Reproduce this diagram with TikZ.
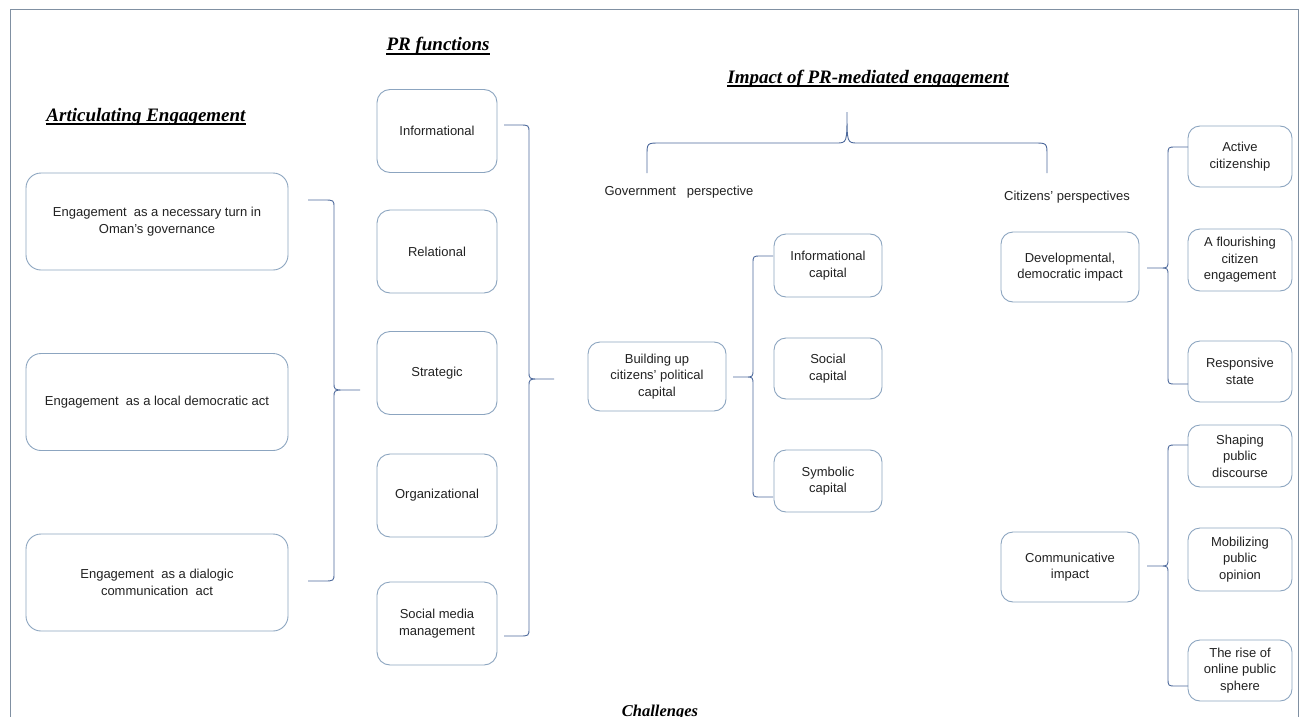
\documentclass[tikz,border=0pt]{standalone}
\usepackage{fontspec}
\setmainfont{Liberation Sans}
\newfontfamily\titlefont{Liberation Serif}
\usetikzlibrary{calc}

\definecolor{boxc}{RGB}{140,165,192}
\definecolor{bracec}{RGB}{78,106,156}
\definecolor{framec}{RGB}{128,144,162}
\definecolor{txt}{RGB}{34,34,34}

% vertical brace: #1 arm x, #2 spine x, #3 tip x, #4 top y, #5 tip y, #6 bottom y
\newcommand{\vbrace}[6]{%
  \draw[bracel] (#1,#4) -- ({#2+0.4*(#1-#2)},#4) .. controls (#2,#4) .. (#2,#4+8)
    -- (#2,#5-8) .. controls (#2,#5) .. ({#2+0.4*(#3-#2)},#5) -- (#3,#5)
    -- ({#2+0.4*(#3-#2)},#5) .. controls (#2,#5) .. (#2,#5+8)
    -- (#2,#6-8) .. controls (#2,#6) .. ({#2+0.4*(#1-#2)},#6) -- (#1,#6);}

\tikzset{
  box/.style={draw=boxc, line width=0.9pt, rounded corners=12pt, align=center,
    inner sep=2pt, text=txt, font=\fontsize{13}{16.5}\selectfont},
  bigbox/.style={box, rounded corners=15pt, minimum width=262pt, minimum height=97pt},
  prbox/.style={box, rounded corners=13pt, minimum width=120pt, minimum height=83pt},
  midbox/.style={box, minimum width=138pt, minimum height=70pt},
  capbox/.style={box, minimum width=108pt, minimum height=62pt},
  leafbox/.style={box, minimum width=104pt, minimum height=62pt},
  title/.style={inner sep=0pt, anchor=base, text=black,
    font=\titlefont\bfseries\itshape\fontsize{19}{23}\selectfont},
  uline/.style={line width=1.2pt, black},
  lab/.style={inner sep=0pt, text=txt, font=\fontsize{13}{16.5}\selectfont},
  bracel/.style={draw=bracec, line width=0.9pt},
}

\begin{document}
\begin{tikzpicture}[x=1pt, y=-1pt]
\useasboundingbox (0,0) rectangle (1303,717);
\clip (0,0) rectangle (1303,717);
\fill[white] (0,0) rectangle (1303,717);
\draw[framec, line width=1pt] (10,10) rectangle (1298,740);

% headings
\node[title] (tArt) at (146,121) {Articulating Engagement};
\node[title] (tPR) at (438,51) {PR functions};
\node[title] (tImp) at (868,83) {Impact of PR-mediated engagement};
\node[title, font=\titlefont\bfseries\itshape\fontsize{16.5}{20}\selectfont] (tCh) at (660,716) {Challenges};
\foreach \t in {tArt,tPR,tImp}
  \draw[uline] ([yshift=-3pt]\t.base west) -- ([yshift=-3pt]\t.base east);

% articulating engagement
\node[bigbox] (E1) at (157,221.5) {Engagement~ as a necessary turn in\\Oman’s governance};
\node[bigbox] (E2) at (157,402) {Engagement~ as a local democratic act};
\node[bigbox] (E3) at (157,582.5) {Engagement~ as a dialogic\\communication~ act};

% PR functions
\node[prbox] (P1) at (437,131) {Informational};
\node[prbox] (P2) at (437,251.5) {Relational};
\node[prbox] (P3) at (437,373) {Strategic};
\node[prbox] (P4) at (437,495.5) {Organizational};
\node[prbox] (P5) at (437,623.5) {Social media\\management};

% perspectives
\node[lab] (gov) at (679,192) {Government~~~perspective};
\node[lab] (cit) at (1067,197) {Citizens’ perspectives};

% government side
\node[midbox, minimum height=69pt] (B) at (657,376.5) {Building up\\citizens’ political\\capital};
\node[capbox, minimum height=63pt] (C1) at (828,265.5) {Informational\\capital};
\node[capbox, minimum height=61pt] (C2) at (828,368.5) {Social\\capital};
\node[capbox] (C3) at (828,481) {Symbolic\\capital};

% citizens side
\node[midbox] (D) at (1070,267) {Developmental,\\democratic impact};
\node[midbox] (Cm) at (1070,567) {Communicative\\impact};
\node[leafbox, minimum height=61pt] (R1) at (1240,156.5) {Active\\citizenship};
\node[leafbox] (R2) at (1240,260) {A flourishing\\citizen\\engagement};
\node[leafbox, minimum height=61pt] (R3) at (1240,371.5) {Responsive\\state};
\node[leafbox] (R4) at (1240,456) {Shaping\\public\\discourse};
\node[leafbox, minimum height=63pt] (R5) at (1240,559.5) {Mobilizing\\public\\opinion};
\node[leafbox, minimum height=61pt] (R6) at (1240,670.5) {The rise of\\online public\\sphere};

% braces
\vbrace{308}{334}{360}{200}{390}{581}
\vbrace{504}{529}{554}{125}{379}{636}
\vbrace{773}{753}{733}{256}{377}{497}
\vbrace{1188}{1168}{1147}{147}{268}{384}
\vbrace{1188}{1168}{1147}{445}{566}{686}

% brace over the two perspectives
\draw[bracel] (647,173) -- (647,156) .. controls (647,143) .. (660,143) -- (836,143)
  .. controls (847,143) .. (847,112) .. controls (847,143) .. (858,143) -- (1034,143)
  .. controls (1047,143) .. (1047,156) -- (1047,173);
\end{tikzpicture}
\end{document}
